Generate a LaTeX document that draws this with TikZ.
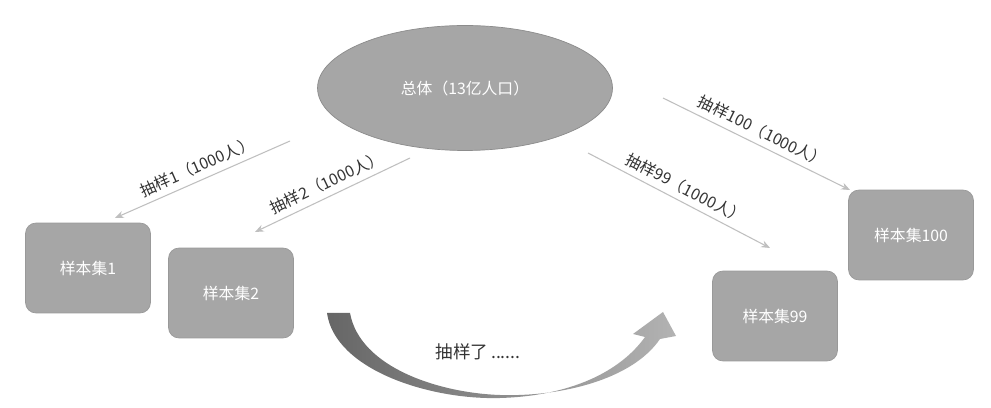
\documentclass[tikz,border=0pt]{standalone}
\usepackage{fontspec}
\setmainfont{Noto Sans CJK SC}
\usetikzlibrary{arrows.meta,shapes.geometric}
\begin{document}
\begin{tikzpicture}[x=0.02cm,y=-0.02cm,
  box/.style={draw=gray!80,fill=black!35,rounded corners=6pt,minimum width=2.5cm,minimum height=1.8cm,text=white,font=\fontsize{9}{11}\selectfont},
  conn/.style={draw=black!25,-{Stealth[length=5pt,width=4pt]},line width=0.6pt},
  lab/.style={font=\fontsize{9}{11}\selectfont,text=black!80,sloped,above,midway}]
\fill[white] (0,0) rectangle (991,408);
\node[ellipse,draw=black!45,fill=black!35,minimum width=5.9cm,minimum height=2.5cm,text=white,font=\fontsize{9}{11}\selectfont] (pop) at (465,88) {总体（13亿人口）};
\node[box] (s1) at (88,268) {样本集1};
\node[box] (s2) at (231,293) {样本集2};
\node[box] (s99) at (775,316) {样本集99};
\node[box] (s100) at (911,235) {样本集100};
\coordinate (a1) at (290,141);
\coordinate (a2) at (410,158);
\coordinate (a99) at (588,153);
\coordinate (a100) at (663,98);
\coordinate (e1) at (115,218);
\coordinate (e2) at (255,232);
\coordinate (e99) at (770,248);
\coordinate (e100) at (850,190);
\draw[conn] (a1) -- node[lab]{抽样1（1000人）} (e1);
\draw[conn] (a2) -- node[lab]{抽样2（1000人）} (e2);
\draw[conn] (a99) -- node[lab]{抽样99（1000人）} (e99);
\draw[conn] (a100) -- node[lab]{抽样100（1000人）} (e100);
\shade[left color=black!60,right color=black!30]
 (327,313) .. controls (335,370) and (430,400) .. (500,398) .. controls (570,396) and (620,372) .. (645,337)
 -- (633,334) -- (663,312) -- (676,336) -- (660,339)
 .. controls (632,380) and (560,397) .. (500,395) .. controls (440,393) and (360,368) .. (350,313) -- cycle;
\node[font=\fontsize{10}{12}\selectfont,text=black!80] (t) at (478,352) {抽样了\,......};
\end{tikzpicture}
\end{document}
